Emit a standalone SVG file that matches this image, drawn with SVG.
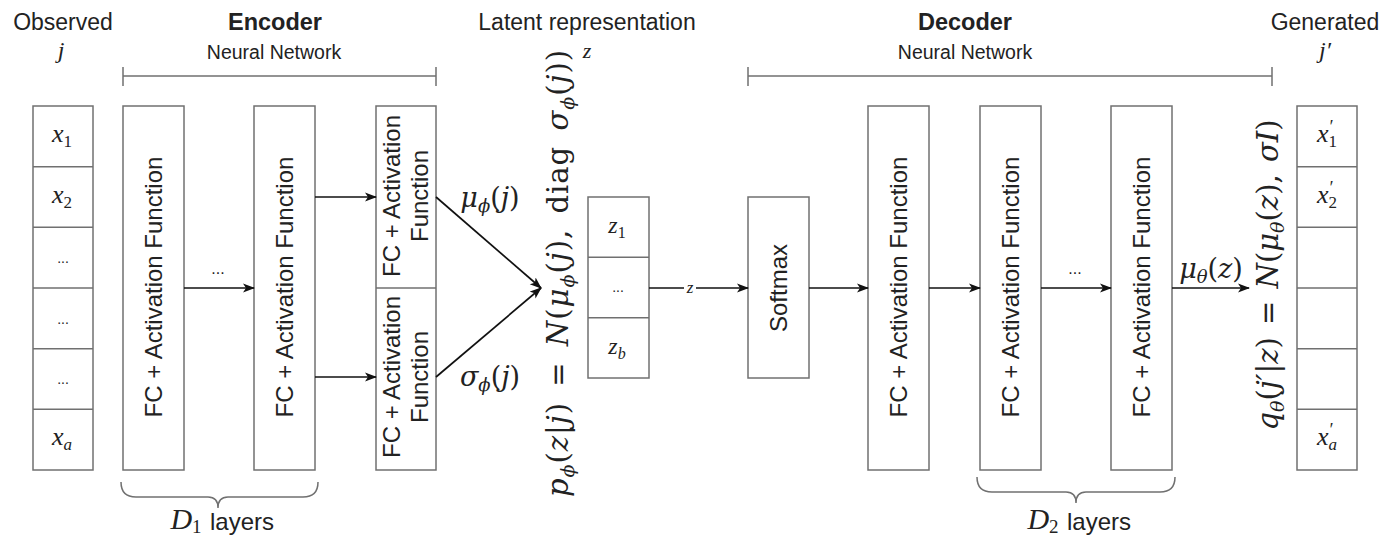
<svg xmlns="http://www.w3.org/2000/svg" width="1387" height="538" viewBox="0 0 1387 538">
<defs>
<marker id="ah" viewBox="0 0 12 10" refX="11" refY="5" markerWidth="12" markerHeight="10" orient="auto" markerUnits="userSpaceOnUse">
<path d="M0,0.5 L12,5 L0,9.5 L3,5 z" fill="#111"/>
</marker>
<style>
.box{fill:#fff;stroke:#707070;stroke-width:1.5}
.sep{stroke:#707070;stroke-width:1.5}
.sans{font-family:"Liberation Sans",Arial,sans-serif;fill:#222}
.math{font-family:"Liberation Serif","DejaVu Serif",serif;fill:#222}
.dmath{font-family:"DejaVu Serif","Liberation Serif",serif;fill:#222}
.it{font-style:italic}
.lbl{font-size:24px}
.conn{stroke:#111;stroke-width:1.7;fill:none}
.brk{stroke:#707070;stroke-width:1.5;fill:none}
</style>
</defs>
<rect width="1387" height="538" fill="#fff"/>

<g id="titles">
<text class="sans" x="63" y="30" font-size="23" text-anchor="middle">Observed</text>
<text class="math it" x="61" y="58" font-size="24" text-anchor="middle">j</text>
<text class="sans" x="275" y="30" font-size="23.5" font-weight="bold" text-anchor="middle">Encoder</text>
<text class="sans" x="274" y="59" font-size="19.5" text-anchor="middle">Neural Network</text>
<text class="sans" x="587" y="30" font-size="23" text-anchor="middle">Latent representation</text>
<text class="math it" x="587" y="58" font-size="22" text-anchor="middle">z</text>
<text class="sans" x="965" y="30" font-size="23.5" font-weight="bold" text-anchor="middle">Decoder</text>
<text class="sans" x="965" y="59" font-size="19.5" text-anchor="middle">Neural Network</text>
<text class="sans" x="1325" y="30" font-size="23" text-anchor="middle">Generated</text>
<text class="math it" x="1325" y="58" font-size="24" text-anchor="middle">j′</text>
</g>

<g id="brackets">
<path class="brk" d="M123,76 H436 M123,67 V86 M436,67 V86"/>
<path class="brk" d="M748,76 H1272 M748,67 V86 M1272,67 V86"/>
<path class="brk" d="M121,482 Q121,497 136,497 H208 Q218,497 218,508 Q218,497 228,497 H303 Q318,497 318,482"/>
<path class="brk" d="M977,477 Q977,492 992,492 H1066 Q1076,492 1076,503 Q1076,492 1086,492 H1160 Q1175,492 1175,477"/>
<text class="math it" x="186" y="529" font-size="30" text-anchor="middle">D<tspan font-size="19" dy="4" font-style="normal">1</tspan></text>
<text class="sans" x="242" y="530" font-size="24" text-anchor="middle">layers</text>
<text class="math it" x="1043" y="529" font-size="30" text-anchor="middle">D<tspan font-size="19" dy="4" font-style="normal">2</tspan></text>
<text class="sans" x="1099" y="530" font-size="24" text-anchor="middle">layers</text>
</g>

<g id="observed">
<rect class="box" x="33" y="106" width="60" height="364"/>
<path class="sep" d="M33,166.7 H93 M33,227.3 H93 M33,288 H93 M33,348.7 H93 M33,409.3 H93"/>
<text class="math it" x="62" y="142" font-size="26" text-anchor="middle">x<tspan font-size="17" dy="5" font-style="normal">1</tspan></text>
<text class="math it" x="62" y="203" font-size="26" text-anchor="middle">x<tspan font-size="17" dy="5" font-style="normal">2</tspan></text>
<text class="sans" x="63" y="263" font-size="14" text-anchor="middle">...</text>
<text class="sans" x="63" y="324" font-size="14" text-anchor="middle">...</text>
<text class="sans" x="63" y="384" font-size="14" text-anchor="middle">...</text>
<text class="math it" x="62" y="445" font-size="26" text-anchor="middle">x<tspan font-size="17" dy="5">a</tspan></text>
</g>

<g id="enc1">
<rect class="box" x="123" y="106" width="61" height="364"/>
<text class="sans lbl" transform="translate(162,287) rotate(-90)" text-anchor="middle">FC + Activation Function</text>
</g>
<g id="enc2">
<rect class="box" x="254" y="106" width="61" height="364"/>
<text class="sans lbl" transform="translate(293,287) rotate(-90)" text-anchor="middle">FC + Activation Function</text>
</g>
<g id="enc3">
<rect class="box" x="376" y="106" width="60" height="364"/>
<path class="sep" d="M376,288 H436"/>
<text class="sans lbl" transform="translate(400,196) rotate(-90)" text-anchor="middle">FC + Activation</text>
<text class="sans lbl" transform="translate(428,196) rotate(-90)" text-anchor="middle">Function</text>
<text class="sans lbl" transform="translate(400,377) rotate(-90)" text-anchor="middle">FC + Activation</text>
<text class="sans lbl" transform="translate(428,377) rotate(-90)" text-anchor="middle">Function</text>
</g>

<g id="latent-formula">
<text class="dmath" transform="translate(568,273) rotate(-90)" font-size="29" text-anchor="middle" letter-spacing="1" word-spacing="5"><tspan class="it">p</tspan><tspan class="it" font-size="19" dy="6">ϕ</tspan><tspan dy="-6">(</tspan><tspan class="it">z</tspan>|<tspan class="it">j</tspan>) = <tspan class="it">N</tspan>(<tspan class="it">μ</tspan><tspan class="it" font-size="19" dy="6">ϕ</tspan><tspan dy="-6">(</tspan><tspan class="it">j</tspan>), diag <tspan class="it">σ</tspan><tspan class="it" font-size="19" dy="6">ϕ</tspan><tspan dy="-6">(</tspan><tspan class="it">j</tspan>))</text>
</g>

<g id="latent">
<rect class="box" x="588" y="197" width="61" height="181"/>
<path class="sep" d="M588,257.3 H649 M588,317.7 H649"/>
<text class="math it" x="617" y="233" font-size="24" text-anchor="middle">z<tspan font-size="16" dy="5" font-style="normal">1</tspan></text>
<text class="sans" x="618" y="292" font-size="14" text-anchor="middle">...</text>
<text class="math it" x="617" y="354" font-size="24" text-anchor="middle">z<tspan font-size="16" dy="5">b</tspan></text>
</g>

<g id="softmax">
<rect class="box" x="748" y="197" width="61" height="181"/>
<text class="sans lbl" transform="translate(787,288) rotate(-90)" text-anchor="middle">Softmax</text>
</g>
<g id="dec1">
<rect class="box" x="868" y="106" width="61" height="364"/>
<text class="sans lbl" transform="translate(907,287) rotate(-90)" text-anchor="middle">FC + Activation Function</text>
</g>
<g id="dec2">
<rect class="box" x="980" y="106" width="61" height="364"/>
<text class="sans lbl" transform="translate(1019,287) rotate(-90)" text-anchor="middle">FC + Activation Function</text>
</g>
<g id="dec3">
<rect class="box" x="1111" y="106" width="61" height="364"/>
<text class="sans lbl" transform="translate(1150,287) rotate(-90)" text-anchor="middle">FC + Activation Function</text>
</g>

<g id="gen-formula">
<text class="dmath" transform="translate(1278,275) rotate(-90)" font-size="29" text-anchor="middle" word-spacing="3"><tspan class="it">q</tspan><tspan class="it" font-size="19" dy="6">θ</tspan><tspan dy="-6">(</tspan><tspan class="it">j′</tspan>|<tspan class="it">z</tspan>) = <tspan class="it">N</tspan>(<tspan class="it">μ</tspan><tspan class="it" font-size="19" dy="6">θ</tspan><tspan dy="-6">(</tspan><tspan class="it">z</tspan>), <tspan class="it">σI</tspan>)</text>
</g>

<g id="generated">
<rect class="box" x="1297" y="106" width="60" height="364"/>
<path class="sep" d="M1297,166.7 H1357 M1297,227.3 H1357 M1297,288 H1357 M1297,348.7 H1357 M1297,409.3 H1357"/>
<text class="math it" x="1327" y="142" font-size="26" text-anchor="middle">x<tspan font-size="18" dy="-9">′</tspan><tspan font-size="17" dy="14" dx="-4" font-style="normal">1</tspan></text>
<text class="math it" x="1327" y="203" font-size="26" text-anchor="middle">x<tspan font-size="18" dy="-9">′</tspan><tspan font-size="17" dy="14" dx="-4" font-style="normal">2</tspan></text>
<text class="math it" x="1327" y="445" font-size="26" text-anchor="middle">x<tspan font-size="18" dy="-9">′</tspan><tspan font-size="17" dy="14" dx="-4">a</tspan></text>
</g>

<g id="connectors">
<path class="conn" d="M184,288 H254" marker-end="url(#ah)"/>
<text class="sans" x="218" y="274" font-size="16" text-anchor="middle">...</text>
<path class="conn" d="M315,197 H376" marker-end="url(#ah)"/>
<path class="conn" d="M315,377 H376" marker-end="url(#ah)"/>
<path class="conn" d="M436,197 L541,288" marker-end="url(#ah)"/>
<path class="conn" d="M436,377 L541,288" marker-end="url(#ah)"/>
<text class="dmath" x="490" y="207" font-size="27" text-anchor="middle"><tspan class="it">μ</tspan><tspan class="it" font-size="18" dy="5">ϕ</tspan><tspan dy="-5">(</tspan><tspan class="it">j</tspan>)</text>
<text class="dmath" x="490" y="386" font-size="27" text-anchor="middle"><tspan class="it">σ</tspan><tspan class="it" font-size="18" dy="5">ϕ</tspan><tspan dy="-5">(</tspan><tspan class="it">j</tspan>)</text>
<path class="conn" d="M649,288 H748" marker-end="url(#ah)"/>
<rect x="684" y="280" width="12" height="16" fill="#fff"/>
<text class="math it" x="690" y="293" font-size="17" text-anchor="middle">z</text>
<path class="conn" d="M809,288 H868" marker-end="url(#ah)"/>
<path class="conn" d="M929,288 H980" marker-end="url(#ah)"/>
<path class="conn" d="M1041,288 H1111" marker-end="url(#ah)"/>
<text class="sans" x="1075" y="274" font-size="16" text-anchor="middle">...</text>
<path class="conn" d="M1172,288 H1249" marker-end="url(#ah)"/>
<text class="dmath" x="1211" y="278" font-size="27" text-anchor="middle"><tspan class="it">μ</tspan><tspan class="it" font-size="18" dy="5">θ</tspan><tspan dy="-5">(</tspan><tspan class="it">z</tspan>)</text>
</g>
</svg>
